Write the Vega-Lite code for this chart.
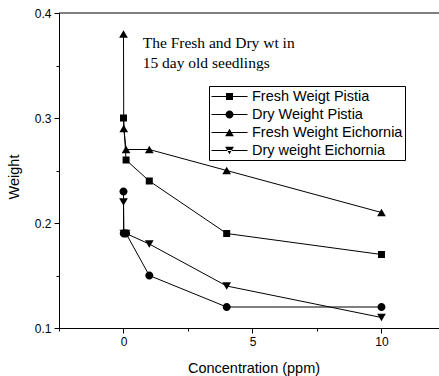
{
  "$schema": "https://vega.github.io/schema/vega-lite/v6.json",
  "width": 380,
  "height": 315,
  "autosize": {"type": "none"},
  "padding": {"left": 59, "top": 13, "right": 0, "bottom": 48},
  "background": "white",
  "config": {
    "view": {"stroke": null},
    "font": "Liberation Sans",
    "axis": {
      "domainColor": "black",
      "domainWidth": 1,
      "tickColor": "black",
      "tickWidth": 1,
      "labelColor": "black",
      "labelFont": "Liberation Sans",
      "labelFontSize": 12,
      "titleColor": "black",
      "titleFont": "Liberation Sans",
      "titleFontSize": 14.5,
      "titleFontWeight": "normal",
      "grid": false
    }
  },
  "datasets": {
    "main": [
      {"conc": 0, "weight": 0.30, "series": "Fresh Weigt Pistia"},
      {"conc": 0.1, "weight": 0.26, "series": "Fresh Weigt Pistia"},
      {"conc": 1, "weight": 0.24, "series": "Fresh Weigt Pistia"},
      {"conc": 4, "weight": 0.19, "series": "Fresh Weigt Pistia"},
      {"conc": 10, "weight": 0.17, "series": "Fresh Weigt Pistia"},
      {"conc": 0, "weight": 0.23, "series": "Dry Weight Pistia"},
      {"conc": 0.01, "weight": 0.19, "series": "Dry Weight Pistia"},
      {"conc": 0.1, "weight": 0.19, "series": "Dry Weight Pistia"},
      {"conc": 1, "weight": 0.15, "series": "Dry Weight Pistia"},
      {"conc": 4, "weight": 0.12, "series": "Dry Weight Pistia"},
      {"conc": 10, "weight": 0.12, "series": "Dry Weight Pistia"},
      {"conc": 0, "weight": 0.38, "series": "Fresh Weight Eichornia"},
      {"conc": 0.01, "weight": 0.29, "series": "Fresh Weight Eichornia"},
      {"conc": 0.1, "weight": 0.27, "series": "Fresh Weight Eichornia"},
      {"conc": 1, "weight": 0.27, "series": "Fresh Weight Eichornia"},
      {"conc": 4, "weight": 0.25, "series": "Fresh Weight Eichornia"},
      {"conc": 10, "weight": 0.21, "series": "Fresh Weight Eichornia"},
      {"conc": 0, "weight": 0.22, "series": "Dry weight Eichornia"},
      {"conc": 0.01, "weight": 0.19, "series": "Dry weight Eichornia"},
      {"conc": 0.1, "weight": 0.19, "series": "Dry weight Eichornia"},
      {"conc": 1, "weight": 0.18, "series": "Dry weight Eichornia"},
      {"conc": 4, "weight": 0.14, "series": "Dry weight Eichornia"},
      {"conc": 10, "weight": 0.11, "series": "Dry weight Eichornia"}
    ],
    "note": [
      {"tx": 0.744, "ty": 0.367, "label": "The Fresh and Dry wt in"},
      {"tx": 0.744, "ty": 0.3476, "label": "15 day old seedlings"}
    ],
    "frame": [
      {"top": 0.4}
    ]
  },
  "resolve": {"scale": {"shape": "independent"}, "axis": {"x": "independent", "y": "independent"}},
  "layer": [
    {
      "data": {"name": "main"},
      "mark": {"type": "line", "color": "black", "strokeWidth": 1},
      "encoding": {
        "x": {
          "field": "conc", "type": "quantitative",
          "scale": {"domain": [-2.5, 12.23], "nice": false, "zero": false},
          "axis": {
            "orient": "bottom",
            "values": [-2.5, 0, 2.5, 5, 7.5, 10],
            "labelExpr": "datum.value % 5 === 0 ? format(datum.value, 'd') : ''",
            "tickSize": {"condition": {"test": "datum.value % 5 === 0", "value": 5}, "value": 3},
            "labelPadding": 3,
            "title": "Concentration (ppm)",
            "titleX": 194.5,
            "titleY": 44,
            "titleBaseline": "alphabetic"
          }
        },
        "y": {
          "field": "weight", "type": "quantitative",
          "scale": {"domain": [0.1, 0.4], "nice": false, "zero": false},
          "axis": {
            "orient": "left",
            "values": [0.1, 0.15, 0.2, 0.25, 0.3, 0.35, 0.4],
            "labelExpr": "(datum.value === 0.1 || datum.value === 0.2 || datum.value === 0.3 || datum.value === 0.4) ? format(datum.value, '.1f') : ''",
            "tickSize": {"condition": {"test": "datum.value === 0.1 || datum.value === 0.2 || datum.value === 0.3 || datum.value === 0.4", "value": 5}, "value": 3},
            "labelPadding": 3,
            "title": "Weight",
            "titleX": -41,
            "titleY": 163.5,
            "titleBaseline": "alphabetic"
          }
        },
        "detail": {"field": "series", "type": "nominal"}
      }
    },
    {
      "data": {"name": "frame"},
      "mark": {"type": "rule", "color": "black", "strokeWidth": 1},
      "encoding": {
        "y": {"field": "top", "type": "quantitative", "axis": null}
      }
    },
    {
      "data": {"name": "main"},
      "mark": {"type": "point", "filled": true, "color": "black", "opacity": 1, "size": 64},
      "encoding": {
        "x": {"field": "conc", "type": "quantitative", "axis": null},
        "y": {"field": "weight", "type": "quantitative", "axis": null},
        "shape": {
          "field": "series", "type": "nominal",
          "scale": {
            "domain": ["Fresh Weigt Pistia", "Dry Weight Pistia", "Fresh Weight Eichornia", "Dry weight Eichornia"],
            "range": [
              "M-0.875,-0.875H0.875V0.875H-0.875Z",
              "M-1,0A1,1,0,1,1,1,0A1,1,0,1,1,-1,0Z",
              "M0,-0.95L1.09,0.95L-1.09,0.95Z",
              "M0,0.95L1.09,-0.95L-1.09,-0.95Z"
            ]
          },
          "legend": null
        }
      }
    },
    {
      "data": {"name": "main"},
      "mark": {"type": "point", "filled": true, "color": "black", "opacity": 0},
      "encoding": {
        "x": {"field": "conc", "type": "quantitative", "axis": null},
        "y": {"field": "weight", "type": "quantitative", "axis": null},
        "shape": {
          "field": "series", "type": "nominal",
          "scale": {
            "domain": ["Fresh Weigt Pistia", "Dry Weight Pistia", "Fresh Weight Eichornia", "Dry weight Eichornia"],
            "range": [
              "M-2.25,-0.06H2.25V0.06H-2.25ZM-0.44,-0.44H0.44V0.44H-0.44Z",
              "M-2.25,-0.06H2.25V0.06H-2.25ZM0.5,0L0.462,0.191L0.354,0.354L0.191,0.462L0,0.5L-0.191,0.462L-0.354,0.354L-0.462,0.191L-0.5,0L-0.462,-0.191L-0.354,-0.354L-0.191,-0.462L0,-0.5L0.191,-0.462L0.354,-0.354L0.462,-0.191Z",
              "M-2.25,-0.06H2.25V0.06H-2.25ZM0,-0.48L0.55,0.48L-0.55,0.48Z",
              "M-2.25,-0.06H2.25V0.06H-2.25ZM0,0.48L0.55,-0.48L-0.55,-0.48Z"
            ]
          },
          "legend": {
            "title": null,
            "orient": "none",
            "legendX": 150,
            "legendY": 73,
            "padding": 2.5,
            "rowPadding": 3,
            "strokeColor": "black",
            "fillColor": "white",
            "symbolSize": 256,
            "symbolStrokeWidth": 0,
            "symbolFillColor": "black",
            "symbolOpacity": 1,
            "symbolOffset": 10,
            "labelOffset": 14.5,
            "labelFont": "Liberation Sans",
            "labelFontSize": 14.5,
            "labelColor": "black",
            "labelLimit": 300
          }
        }
      }
    },
    {
      "data": {"name": "note"},
      "mark": {"type": "text", "align": "left", "baseline": "alphabetic", "font": "Liberation Serif", "fontSize": 15.5, "color": "black"},
      "encoding": {
        "x": {"field": "tx", "type": "quantitative", "axis": null},
        "y": {"field": "ty", "type": "quantitative", "axis": null},
        "text": {"field": "label", "type": "nominal"}
      }
    }
  ]
}
